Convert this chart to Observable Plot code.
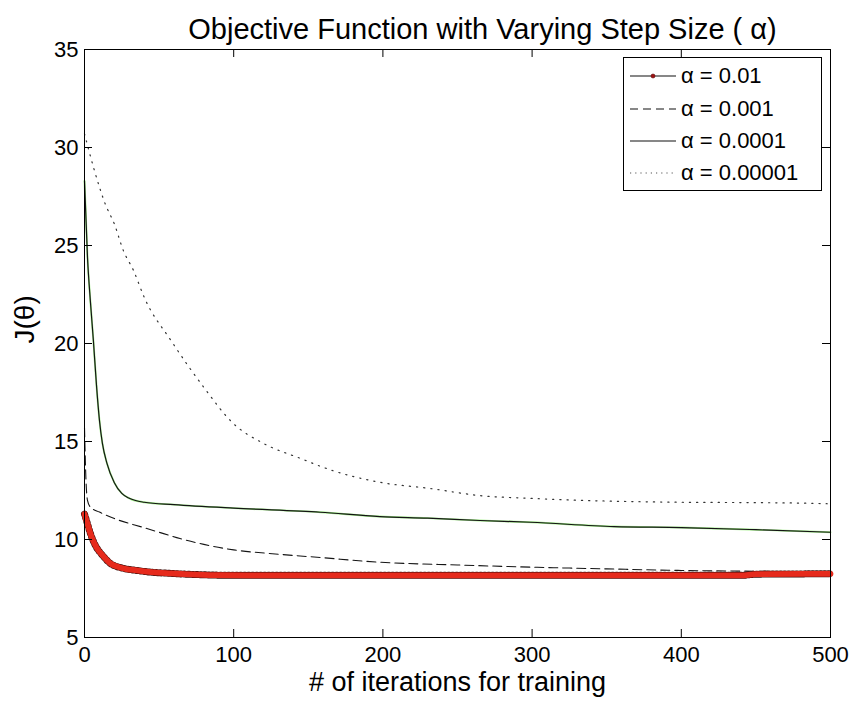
<!DOCTYPE html>
<html>
<head>
<meta charset="utf-8">
<script src="https://cdn.jsdelivr.net/npm/d3@7"></script>
<script src="https://cdn.jsdelivr.net/npm/@observablehq/plot@0.6"></script>
<style>
  html, body { margin: 0; padding: 0; background: white; }
  #wrap { position: relative; width: 852px; height: 708px; font-family: "Liberation Sans", Arial, Helvetica, sans-serif; }
  #legend { position: absolute; left: 623px; top: 57px; width: 199px; height: 134px; border: 1px solid #000; background: #fff; box-sizing: border-box; }
  .lrow { position: absolute; left: 0; height: 30px; width: 198px; }
  .lrow svg { position: absolute; left: 6px; top: 0; }
  .lrow span { position: absolute; left: 57px; top: 1px; font-size: 22px; line-height: 28px; color: #000; white-space: nowrap; }
</style>
</head>
<body>
<div id="wrap"></div>
<script>
// ---- data ----
const titleText = "Objective Function with Varying Step Size ( \u03b1)";
const xLabelText = "# of iterations for training";
const yLabelText = "J(\u03b8)";
const xTicks = [0, 100, 200, 300, 400, 500];
const yTicks = [5, 10, 15, 20, 25, 30, 35];
const seriesNames = ["\u03b1 = 0.01", "\u03b1 = 0.001", "\u03b1 = 0.0001", "\u03b1 = 0.00001"];

// alpha = 0.01
const iterA = [0, 2, 4, 6, 8, 12, 17, 25, 35, 45, 58, 75, 91, 120, 200, 300, 440, 450, 500];
const costA = [11.3, 10.8, 10.3, 9.9, 9.6, 9.2, 8.8, 8.55, 8.42, 8.33, 8.27, 8.21, 8.18, 8.17, 8.17, 8.17, 8.17, 8.23, 8.25];
// alpha = 0.001
const iterB = [0, 1, 2, 4, 10, 20, 40, 53, 64, 80, 100, 130, 158, 198, 250, 299, 350, 400, 450, 500];
const costB = [15.7, 13.0, 12.0, 11.65, 11.4, 11.07, 10.6, 10.3, 10.05, 9.75, 9.47, 9.25, 9.08, 8.84, 8.7, 8.59, 8.5, 8.42, 8.38, 8.34];
// alpha = 0.0001
const iterC = [0, 2, 4, 6, 8, 10, 12, 15, 20, 25, 30, 40, 60, 100, 158, 198, 230, 265, 299, 355, 400, 450, 500];
const costC = [28.3, 24.4, 22.1, 20.1, 17.9, 16.1, 14.9, 13.9, 12.9, 12.35, 12.1, 11.9, 11.78, 11.6, 11.39, 11.17, 11.09, 10.97, 10.88, 10.66, 10.61, 10.5, 10.37];
// alpha = 0.00001
const iterD = [0, 6, 14, 20, 26, 33, 40, 58, 80, 100, 120, 145, 163, 198, 232, 265, 299, 332, 400, 450, 485, 500];
const costD = [30.7, 29.0, 27.1, 26.1, 24.75, 23.7, 22.36, 20.15, 17.76, 15.9, 14.9, 14.13, 13.6, 12.92, 12.6, 12.24, 12.1, 12.0, 11.9, 11.88, 11.85, 11.82];

const toRows = (xs, ys) => xs.map((x, i) => ({x, y: ys[i]}));
const dA = toRows(iterA, costA);
const dB = toRows(iterB, costB);
const dC = toRows(iterC, costC);
const dD = toRows(iterD, costD);

const RED = "#e62a1c";
const GREEN = "#a6f08e";
const FONT = "'Liberation Sans', Arial, Helvetica, sans-serif";
const W = 852, H = 708, ML = 84, MR = 22, MT = 49, MB = 71;
const TICK = 8;
const frameW = W - ML - MR, frameH = H - MT - MB;

const chart = Plot.plot({
  width: W,
  height: H,
  marginLeft: ML,
  marginRight: MR,
  marginTop: MT,
  marginBottom: MB,
  style: {fontFamily: FONT, fontSize: "22px", background: "white", color: "black", overflow: "visible"},
  x: {domain: [0, 500], ticks: xTicks},
  y: {domain: [5, 35], ticks: yTicks},
  marks: [
    // alpha = 0.00001 (dotted)
    Plot.line(dD, {x: "x", y: "y", curve: "monotone-x", stroke: "#333", strokeWidth: 1.2, strokeDasharray: "1.2,6"}),
    // alpha = 0.0001 (solid with green trace)
    Plot.line(dC, {x: "x", y: "y", curve: "monotone-x", stroke: GREEN, strokeWidth: 1.9}),
    Plot.line(dC, {x: "x", y: "y", curve: "monotone-x", stroke: "#151515", strokeWidth: 1.2}),
    // alpha = 0.001 (dashed)
    Plot.line(dB, {x: "x", y: "y", curve: "monotone-x", stroke: "#151515", strokeWidth: 1.1, strokeDasharray: "9,5"}),
    // alpha = 0.01 (line with dense red markers)
    Plot.line(dA, {x: "x", y: "y", curve: "monotone-x", stroke: "#3a0b08", strokeWidth: 7, strokeDasharray: "1,3"}),
    Plot.line(dA, {x: "x", y: "y", curve: "monotone-x", stroke: RED, strokeWidth: 5.8}),
    Plot.frame({stroke: "black", strokeWidth: 1}),
    // inward ticks on all four sides
    Plot.tickX(xTicks, {x: d => d, stroke: "black", insetTop: frameH - TICK}),
    Plot.tickX(xTicks, {x: d => d, stroke: "black", insetBottom: frameH - TICK}),
    Plot.tickY(yTicks, {y: d => d, stroke: "black", insetRight: frameW - TICK}),
    Plot.tickY(yTicks, {y: d => d, stroke: "black", insetLeft: frameW - TICK}),
    Plot.axisX({anchor: "bottom", ticks: xTicks, tickSize: 0, tickPadding: 9, label: null, fontSize: 22}),
    Plot.axisY({anchor: "left", ticks: yTicks, tickSize: 0, tickPadding: 6, label: null, fontSize: 22}),
    Plot.text([titleText], {frameAnchor: "top", dx: 25, dy: -31, fontSize: 29, fill: "black", text: d => d}),
    Plot.text([xLabelText], {frameAnchor: "bottom", dy: 53, fontSize: 27, fill: "black", text: d => d}),
    Plot.text([yLabelText], {frameAnchor: "left", dx: -59, rotate: -90, fontSize: 28, fill: "black", text: d => d})
  ]
});

const wrap = document.getElementById("wrap");
wrap.appendChild(chart);

// legend (HTML overlay in the top-right corner of the axes)
const legend = document.createElement("div");
legend.id = "legend";
wrap.appendChild(legend);
const styles = [
  {dash: null, color: "#111", marker: true},
  {dash: "8,5", color: "#111", marker: false},
  {dash: null, color: "#111", marker: false},
  {dash: "1.2,4", color: "#555", marker: false}
];
const rowTops = [3, 36, 68, 100];
seriesNames.forEach((name, i) => {
  const row = d3.select(legend).append("div").attr("class", "lrow").style("top", rowTops[i] + "px");
  const svg = row.append("svg").attr("width", 46).attr("height", 30);
  svg.append("line").attr("x1", 0).attr("x2", 46).attr("y1", 15).attr("y2", 15)
    .attr("stroke", styles[i].color).attr("stroke-width", 1.1)
    .attr("stroke-dasharray", styles[i].dash);
  if (styles[i].marker) {
    svg.append("circle").attr("cx", 23).attr("cy", 15).attr("r", 2).attr("fill", "#a01010").attr("stroke", "#5a0a0a").attr("stroke-width", 0.6);
  }
  row.append("span").text(name);
});
</script>
</body>
</html>
